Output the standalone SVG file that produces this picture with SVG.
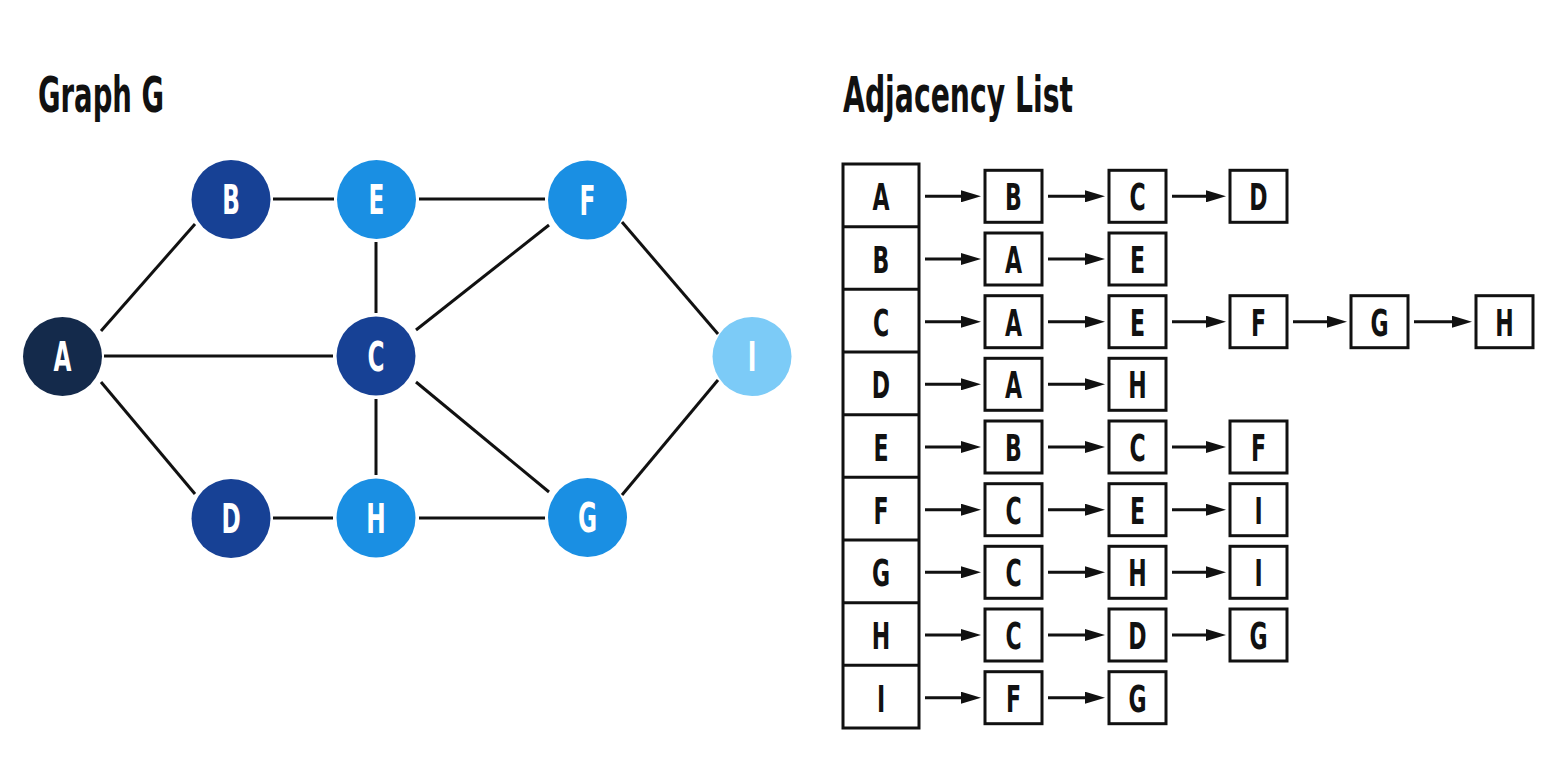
<svg xmlns="http://www.w3.org/2000/svg" width="1558" height="759" viewBox="0 0 1558 759">
<defs>
<style>
.title{font-family:"DejaVu Sans","Liberation Sans",sans-serif;font-weight:bold;font-size:50px;fill:#111}
.nl{font-family:"DejaVu Sans","Liberation Sans",sans-serif;font-weight:bold;font-size:40px;fill:#fff;text-anchor:middle}
.bl{font-family:"DejaVu Sans","Liberation Sans",sans-serif;font-weight:bold;font-size:38px;fill:#111;text-anchor:middle}
.edge{stroke:#111;stroke-width:3;fill:none}
.arr{stroke:#111;stroke-width:3;fill:none;marker-end:url(#ah)}
.box{fill:#fff;stroke:#111;stroke-width:3}
.c0{fill:#142a4b}.c1{fill:#174195}.c2{fill:#1a8fe3}.c3{fill:#7ccbf7}
</style>
<marker id="ah" viewBox="0 0 20 12" refX="10" refY="6" markerWidth="20" markerHeight="12" markerUnits="userSpaceOnUse" orient="auto">
<path d="M0,0 L20,6 L0,12 Z" fill="#111"/>
</marker>
</defs>
<rect width="1558" height="759" fill="#fff"/>
<text class="title" x="38" y="112" textLength="126" lengthAdjust="spacingAndGlyphs">Graph G</text>
<text class="title" x="843" y="112" textLength="230" lengthAdjust="spacingAndGlyphs">Adjacency List</text>

<g id="graph-edges">
<line class="edge" x1="101" y1="331" x2="195" y2="224"/>
<line class="edge" x1="104" y1="356" x2="333" y2="356"/>
<line class="edge" x1="101" y1="382" x2="195" y2="494"/>
<line class="edge" x1="273" y1="199" x2="334" y2="199"/>
<line class="edge" x1="419" y1="199" x2="545" y2="199"/>
<line class="edge" x1="376" y1="242" x2="376" y2="313"/>
<line class="edge" x1="416" y1="330" x2="549" y2="225"/>
<line class="edge" x1="376" y1="399" x2="376" y2="475"/>
<line class="edge" x1="416" y1="382" x2="549" y2="492"/>
<line class="edge" x1="273" y1="518" x2="333" y2="518"/>
<line class="edge" x1="419" y1="518" x2="545" y2="518"/>
<line class="edge" x1="622" y1="222" x2="718" y2="334"/>
<line class="edge" x1="622" y1="495" x2="718" y2="380"/>
</g>

<g id="node-A"><circle class="c0" cx="62.5" cy="356.5" r="39.5"/><text class="nl" transform="translate(62.5,371) scale(0.58,1)">A</text></g>
<g id="node-B"><circle class="c1" cx="231" cy="199.5" r="39.5"/><text class="nl" transform="translate(231,214) scale(0.58,1)">B</text></g>
<g id="node-C"><circle class="c1" cx="376" cy="356" r="39.5"/><text class="nl" transform="translate(376,371) scale(0.58,1)">C</text></g>
<g id="node-D"><circle class="c1" cx="231" cy="518.5" r="39.5"/><text class="nl" transform="translate(231,533) scale(0.58,1)">D</text></g>
<g id="node-E"><circle class="c2" cx="376.5" cy="199.5" r="39.5"/><text class="nl" transform="translate(376.5,214) scale(0.58,1)">E</text></g>
<g id="node-F"><circle class="c2" cx="587.5" cy="200" r="39.5"/><text class="nl" transform="translate(587.5,214.5) scale(0.58,1)">F</text></g>
<g id="node-G"><circle class="c2" cx="587.5" cy="517.5" r="39.5"/><text class="nl" transform="translate(587.5,532) scale(0.58,1)">G</text></g>
<g id="node-H"><circle class="c2" cx="376" cy="518" r="39.5"/><text class="nl" transform="translate(376,532.5) scale(0.58,1)">H</text></g>
<g id="node-I"><circle class="c3" cx="752" cy="356.5" r="39.5"/><text class="nl" transform="translate(752,371) scale(0.58,1)">I</text></g>

<g id="list-head">
<rect class="box" x="843" y="164" width="76" height="564"/>
<line class="edge" x1="843" y1="226.7" x2="919" y2="226.7"/>
<line class="edge" x1="843" y1="289.3" x2="919" y2="289.3"/>
<line class="edge" x1="843" y1="352" x2="919" y2="352"/>
<line class="edge" x1="843" y1="414.7" x2="919" y2="414.7"/>
<line class="edge" x1="843" y1="477.3" x2="919" y2="477.3"/>
<line class="edge" x1="843" y1="540" x2="919" y2="540"/>
<line class="edge" x1="843" y1="602.7" x2="919" y2="602.7"/>
<line class="edge" x1="843" y1="665.3" x2="919" y2="665.3"/>
<text class="bl" transform="translate(881,210.3) scale(0.58,1)">A</text>
<text class="bl" transform="translate(881,273) scale(0.58,1)">B</text>
<text class="bl" transform="translate(881,335.7) scale(0.58,1)">C</text>
<text class="bl" transform="translate(881,398.3) scale(0.58,1)">D</text>
<text class="bl" transform="translate(881,461) scale(0.58,1)">E</text>
<text class="bl" transform="translate(881,523.7) scale(0.58,1)">F</text>
<text class="bl" transform="translate(881,586.3) scale(0.58,1)">G</text>
<text class="bl" transform="translate(881,649) scale(0.58,1)">H</text>
<text class="bl" transform="translate(881,711.7) scale(0.58,1)">I</text>
</g>

<g id="list-arrows">
<line class="arr" x1="925" y1="196.3" x2="971" y2="196.3"/><line class="arr" x1="1048" y1="196.3" x2="1095" y2="196.3"/><line class="arr" x1="1172" y1="196.3" x2="1216" y2="196.3"/>
<line class="arr" x1="925" y1="259" x2="971" y2="259"/><line class="arr" x1="1048" y1="259" x2="1095" y2="259"/>
<line class="arr" x1="925" y1="321.7" x2="971" y2="321.7"/><line class="arr" x1="1048" y1="321.7" x2="1095" y2="321.7"/><line class="arr" x1="1172" y1="321.7" x2="1216" y2="321.7"/><line class="arr" x1="1293" y1="321.7" x2="1337" y2="321.7"/><line class="arr" x1="1414" y1="321.7" x2="1462" y2="321.7"/>
<line class="arr" x1="925" y1="384.3" x2="971" y2="384.3"/><line class="arr" x1="1048" y1="384.3" x2="1095" y2="384.3"/>
<line class="arr" x1="925" y1="447" x2="971" y2="447"/><line class="arr" x1="1048" y1="447" x2="1095" y2="447"/><line class="arr" x1="1172" y1="447" x2="1216" y2="447"/>
<line class="arr" x1="925" y1="509.7" x2="971" y2="509.7"/><line class="arr" x1="1048" y1="509.7" x2="1095" y2="509.7"/><line class="arr" x1="1172" y1="509.7" x2="1216" y2="509.7"/>
<line class="arr" x1="925" y1="572.3" x2="971" y2="572.3"/><line class="arr" x1="1048" y1="572.3" x2="1095" y2="572.3"/><line class="arr" x1="1172" y1="572.3" x2="1216" y2="572.3"/>
<line class="arr" x1="925" y1="635" x2="971" y2="635"/><line class="arr" x1="1048" y1="635" x2="1095" y2="635"/><line class="arr" x1="1172" y1="635" x2="1216" y2="635"/>
<line class="arr" x1="925" y1="697.7" x2="971" y2="697.7"/><line class="arr" x1="1048" y1="697.7" x2="1095" y2="697.7"/>
</g>

<g id="list-A">
<rect class="box" x="985" y="170.3" width="57" height="52"/><text class="bl" transform="translate(1013.5,210.3) scale(0.58,1)">B</text>
<rect class="box" x="1109" y="170.3" width="57" height="52"/><text class="bl" transform="translate(1137.5,210.3) scale(0.58,1)">C</text>
<rect class="box" x="1230" y="170.3" width="57" height="52"/><text class="bl" transform="translate(1258.5,210.3) scale(0.58,1)">D</text>
</g>
<g id="list-B">
<rect class="box" x="985" y="233" width="57" height="52"/><text class="bl" transform="translate(1013.5,273) scale(0.58,1)">A</text>
<rect class="box" x="1109" y="233" width="57" height="52"/><text class="bl" transform="translate(1137.5,273) scale(0.58,1)">E</text>
</g>
<g id="list-C">
<rect class="box" x="985" y="295.7" width="57" height="52"/><text class="bl" transform="translate(1013.5,335.7) scale(0.58,1)">A</text>
<rect class="box" x="1109" y="295.7" width="57" height="52"/><text class="bl" transform="translate(1137.5,335.7) scale(0.58,1)">E</text>
<rect class="box" x="1230" y="295.7" width="57" height="52"/><text class="bl" transform="translate(1258.5,335.7) scale(0.58,1)">F</text>
<rect class="box" x="1351" y="295.7" width="57" height="52"/><text class="bl" transform="translate(1379.5,335.7) scale(0.58,1)">G</text>
<rect class="box" x="1476" y="295.7" width="57" height="52"/><text class="bl" transform="translate(1504.5,335.7) scale(0.58,1)">H</text>
</g>
<g id="list-D">
<rect class="box" x="985" y="358.3" width="57" height="52"/><text class="bl" transform="translate(1013.5,398.3) scale(0.58,1)">A</text>
<rect class="box" x="1109" y="358.3" width="57" height="52"/><text class="bl" transform="translate(1137.5,398.3) scale(0.58,1)">H</text>
</g>
<g id="list-E">
<rect class="box" x="985" y="421" width="57" height="52"/><text class="bl" transform="translate(1013.5,461) scale(0.58,1)">B</text>
<rect class="box" x="1109" y="421" width="57" height="52"/><text class="bl" transform="translate(1137.5,461) scale(0.58,1)">C</text>
<rect class="box" x="1230" y="421" width="57" height="52"/><text class="bl" transform="translate(1258.5,461) scale(0.58,1)">F</text>
</g>
<g id="list-F">
<rect class="box" x="985" y="483.7" width="57" height="52"/><text class="bl" transform="translate(1013.5,523.7) scale(0.58,1)">C</text>
<rect class="box" x="1109" y="483.7" width="57" height="52"/><text class="bl" transform="translate(1137.5,523.7) scale(0.58,1)">E</text>
<rect class="box" x="1230" y="483.7" width="57" height="52"/><text class="bl" transform="translate(1258.5,523.7) scale(0.58,1)">I</text>
</g>
<g id="list-G">
<rect class="box" x="985" y="546.3" width="57" height="52"/><text class="bl" transform="translate(1013.5,586.3) scale(0.58,1)">C</text>
<rect class="box" x="1109" y="546.3" width="57" height="52"/><text class="bl" transform="translate(1137.5,586.3) scale(0.58,1)">H</text>
<rect class="box" x="1230" y="546.3" width="57" height="52"/><text class="bl" transform="translate(1258.5,586.3) scale(0.58,1)">I</text>
</g>
<g id="list-H">
<rect class="box" x="985" y="609" width="57" height="52"/><text class="bl" transform="translate(1013.5,649) scale(0.58,1)">C</text>
<rect class="box" x="1109" y="609" width="57" height="52"/><text class="bl" transform="translate(1137.5,649) scale(0.58,1)">D</text>
<rect class="box" x="1230" y="609" width="57" height="52"/><text class="bl" transform="translate(1258.5,649) scale(0.58,1)">G</text>
</g>
<g id="list-I">
<rect class="box" x="985" y="671.7" width="57" height="52"/><text class="bl" transform="translate(1013.5,711.7) scale(0.58,1)">F</text>
<rect class="box" x="1109" y="671.7" width="57" height="52"/><text class="bl" transform="translate(1137.5,711.7) scale(0.58,1)">G</text>
</g>
</svg>
